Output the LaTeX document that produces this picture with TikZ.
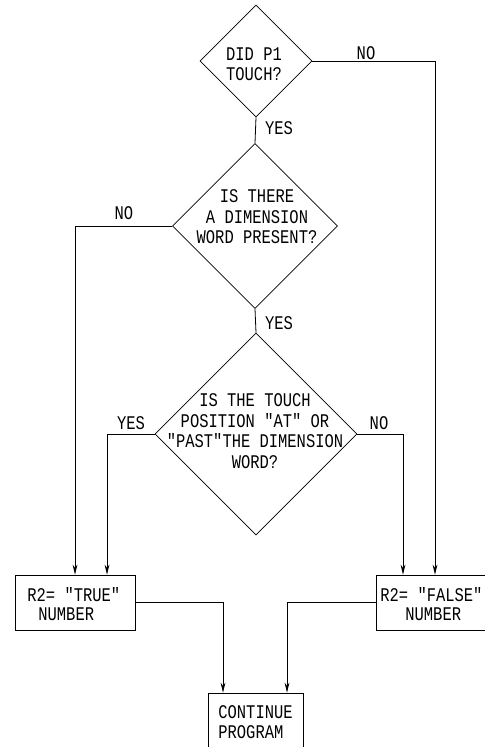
\documentclass[tikz,border=0pt]{standalone}
\usepackage{fontspec}
\newfontfamily\plotfont[FakeStretch=0.8]{Liberation Mono}
\usetikzlibrary{shapes.geometric,calc,arrows.meta}
\begin{document}
\begin{tikzpicture}[x=0.75pt,y=-0.75pt,line width=0.6pt,
  dia/.style={draw,diamond,inner sep=0pt,minimum width={#1*0.75pt},minimum height={#1*0.75pt}},
  boxnode/.style={draw,rectangle,inner sep=0pt},
  txt/.style={font=\plotfont\fontsize{14.5}{15.4}\selectfont,align=center,inner sep=0pt},
  arr/.style={-{Stealth[length=7.5pt,width=3.6pt]}}]
\useasboundingbox (0,0) rectangle (485,747);
\clip (0,0) rectangle (485,747);
% decisions
\node[dia=112] (d1) at (256,61) {};
\node[dia=165] (d2) at (255,226) {};
\node[dia=202] (d3) at (256,434) {};
\node[txt] (t1) at (254,64) {DID P1\\TOUCH?};
\node[txt] (t2) at (257,217) {IS THERE\\A DIMENSION\\WORD PRESENT?};
\node[txt] (t3) at (255,431) {IS THE TOUCH\\POSITION "AT" OR\\"PAST"THE DIMENSION\\WORD?};
% boxes
\node[boxnode,minimum width={120*0.75pt},minimum height={55*0.75pt}] (tb) at (75,602.5) {};
\node[boxnode,minimum width={120*0.75pt},minimum height={55*0.75pt}] (fb) at (436,602.5) {};
\node[boxnode,minimum width={95*0.75pt},minimum height={55*0.75pt}] (cb) at (255.5,720.5) {};
\node[txt,anchor=base west] (tb1) at (27,601) {R2= "TRUE"};
\node[txt,anchor=base west] (tb2) at (38,620) {NUMBER};
\node[txt,anchor=base west] (fb1) at (380,601) {R2= "FALSE"};
\node[txt,anchor=base west] (fb2) at (405,620) {NUMBER};
\node[txt,anchor=base west] (cb1) at (218,718) {CONTINUE};
\node[txt,anchor=base west] (cb2) at (218,738) {PROGRAM};
% labels
\node[txt] (l1) at (366,53) {NO};
\node[txt] (l2) at (279,128) {YES};
\node[txt] (l3) at (124,213) {NO};
\node[txt] (l4) at (279,323) {YES};
\node[txt] (l5) at (131,423) {YES};
\node[txt] (l6) at (379,423) {NO};
% connectors
\draw (d1.south) -- (d2.north);
\draw (d2.south) -- (d3.north);
\draw[arr] (d1.east) -| ($(fb.north)+(-1,0)$);
\draw[arr] (d3.east) -| ($(fb.north)+(-33,0)$);
\draw[arr] (d2.west) -| (tb.north);
\draw[arr] (d3.west) -| ($(tb.north)+(32,0)$);
\draw[arr] (tb.east) -| ($(cb.north)+(-32.5,0)$);
\draw[arr] (fb.west) -| ($(cb.north)+(31.5,0)$);
\end{tikzpicture}
\end{document}
